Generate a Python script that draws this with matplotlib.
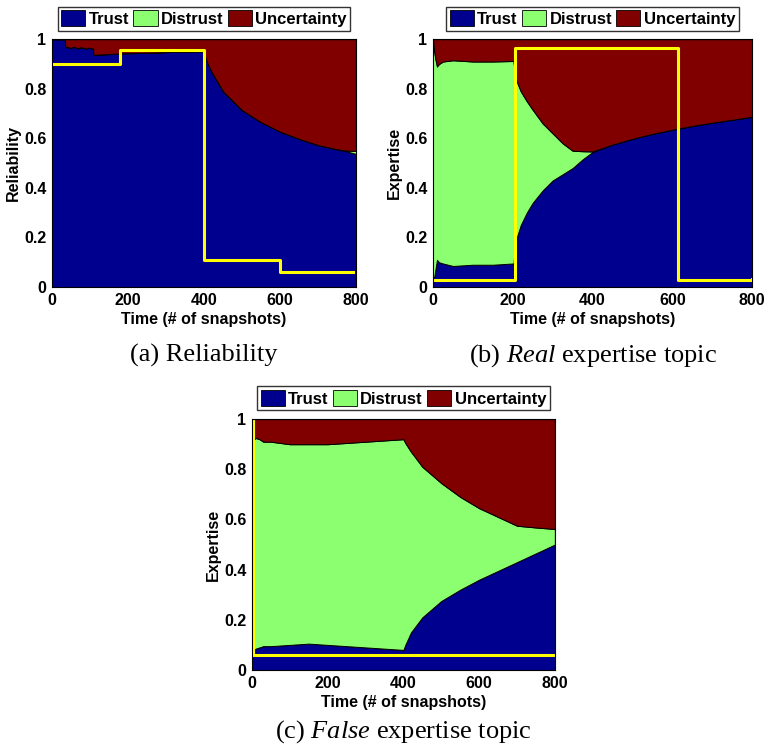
import numpy as np
import matplotlib
matplotlib.use('Agg')
import matplotlib.pyplot as plt
from matplotlib.patches import Patch

# Dữ liệu
# (a) Reliability
t_a = [0, 34, 35, 50, 55, 70, 75, 90, 95, 108, 109, 150, 180, 250, 300, 400, 405, 410, 420,
       450, 500, 550, 600, 650, 700, 750, 770, 800]
trust_a = [1.0, 1.0, 0.97, 0.965, 0.97, 0.963, 0.968, 0.962, 0.966, 0.962, 0.937, 0.94, 0.943,
           0.945, 0.948, 0.952, 0.92, 0.90, 0.868, 0.79, 0.714, 0.665, 0.627, 0.598, 0.573,
           0.556, 0.55, 0.537]
distrust_a = [0, 0, 0, 0, 0, 0, 0, 0, 0, 0, 0, 0, 0, 0, 0, 0, 0, 0, 0, 0, 0, 0, 0, 0, 0,
              0, 0.001, 0.012]
ref_t_a = [0, 180, 400, 600, 791]
ref_a = [0.90, 0.955, 0.11, 0.06, 0.06]

# (b) Real expertise topic
t_b = [0, 3, 6, 10, 15, 25, 50, 100, 150, 200, 202, 205, 210, 220, 235, 250, 275, 300, 325,
       350, 375, 400, 450, 500, 550, 600, 650, 700, 750, 800]
trust_b = [0.04, 0.04, 0.07, 0.11, 0.10, 0.095, 0.085, 0.09, 0.09, 0.095, 0.095, 0.16, 0.20,
           0.25, 0.30, 0.34, 0.39, 0.43, 0.455, 0.48, 0.515, 0.545, 0.575, 0.598, 0.618,
           0.635, 0.65, 0.663, 0.675, 0.687]
distrust_b = [0.96, 0.91, 0.85, 0.78, 0.80, 0.815, 0.83, 0.82, 0.82, 0.817, 0.817, 0.70, 0.63,
              0.54, 0.45, 0.375, 0.27, 0.19, 0.125, 0.07, 0.033, 0.002, 0, 0, 0, 0, 0, 0, 0, 0]
ref_t_b = [0, 205, 615, 800]
ref_b = [0.03, 0.965, 0.03, 0.032]

# (c) False expertise topic
t_c = [0, 3, 6, 10, 20, 30, 50, 100, 150, 200, 300, 400, 405, 420, 450, 500, 550, 600, 650,
       700, 750, 800]
trust_c = [0.06, 0.07, 0.08, 0.085, 0.09, 0.095, 0.095, 0.10, 0.105, 0.10, 0.09, 0.08, 0.10,
           0.15, 0.21, 0.275, 0.32, 0.36, 0.395, 0.43, 0.465, 0.50]
distrust_c = [0.94, 0.86, 0.84, 0.84, 0.83, 0.815, 0.815, 0.80, 0.795, 0.80, 0.82, 0.84, 0.805,
              0.72, 0.60, 0.47, 0.37, 0.285, 0.215, 0.145, 0.103, 0.062]
ref_t_c = [0, 3, 796]
ref_c = [1.0, 0.06, 0.06]

labels = ['Trust', 'Distrust', 'Uncertainty']
colors = ['#00008f', '#8cff70', '#800000']

plt.rcParams['font.family'] = ['Liberation Sans', 'DejaVu Sans']
plt.rcParams['font.weight'] = 'bold'
plt.rcParams['mathtext.fontset'] = 'custom'
plt.rcParams['mathtext.it'] = 'Liberation Serif:style=italic:weight=normal'
plt.rcParams['mathtext.rm'] = 'Liberation Serif:weight=normal'


def plot_panel(fig, rect, t, trust, distrust, ref_t, ref, ylabel, caption, cap_y):
    ax = fig.add_axes(rect)
    trust = np.array(trust)
    distrust = np.array(distrust)
    uncertainty = 1 - trust - distrust
    ax.stackplot(t, trust, distrust, uncertainty, colors=colors,
                 edgecolor='black', linewidth=0.7)
    ax.plot(ref_t, ref, drawstyle='steps-post', color='#ffff00', linewidth=2.2)
    ax.set_xlim(0, 800)
    ax.set_ylim(0, 1)
    ax.set_xticks([0, 200, 400, 600, 800])
    ax.set_yticks([0, 0.2, 0.4, 0.6, 0.8, 1])
    ax.set_yticklabels(['0', '0.2', '0.4', '0.6', '0.8', '1'])
    ax.tick_params(length=0, labelsize=11.5, pad=4)
    ax.set_xlabel('Time (# of snapshots)', fontsize=11.5, fontweight='bold', labelpad=3)
    ax.set_ylabel(ylabel, fontsize=11.5, fontweight='bold', labelpad=2)
    handles = [Patch(facecolor=c, edgecolor='black', linewidth=0.6) for c in colors]
    leg = ax.legend(handles, labels, ncol=3, loc='lower center', bbox_to_anchor=(0.5, 1.035),
                    fontsize=12, frameon=True, fancybox=False, edgecolor='black',
                    handlelength=1.45, handleheight=1.1, handletextpad=0.2,
                    columnspacing=0.25, borderpad=0.22, borderaxespad=0)
    leg.get_frame().set_linewidth(1.0)
    x0, y0, w, h = rect
    fig.text(x0 + w / 2, cap_y, caption, ha='center', va='center', fontsize=19,
             family='Liberation Serif', fontweight='normal')
    return ax


fig = plt.figure(figsize=(7.68, 7.51), dpi=100)
plot_panel(fig, [0.0677, 0.6178, 0.3958, 0.330], t_a, trust_a, distrust_a, ref_t_a, ref_a,
           'Reliability', '(a) Reliability', 0.527)
plot_panel(fig, [0.5638, 0.6178, 0.4154, 0.330], t_b, trust_b, distrust_b, ref_t_b, ref_b,
           'Expertise', '(b) $\\mathit{Real}$ expertise topic', 0.527)
plot_panel(fig, [0.328, 0.1079, 0.3945, 0.334], t_c, trust_c, distrust_c, ref_t_c, ref_c,
           'Expertise', '(c) $\\mathit{False}$ expertise topic', 0.0253)

fig.savefig('out.png', dpi=100)
